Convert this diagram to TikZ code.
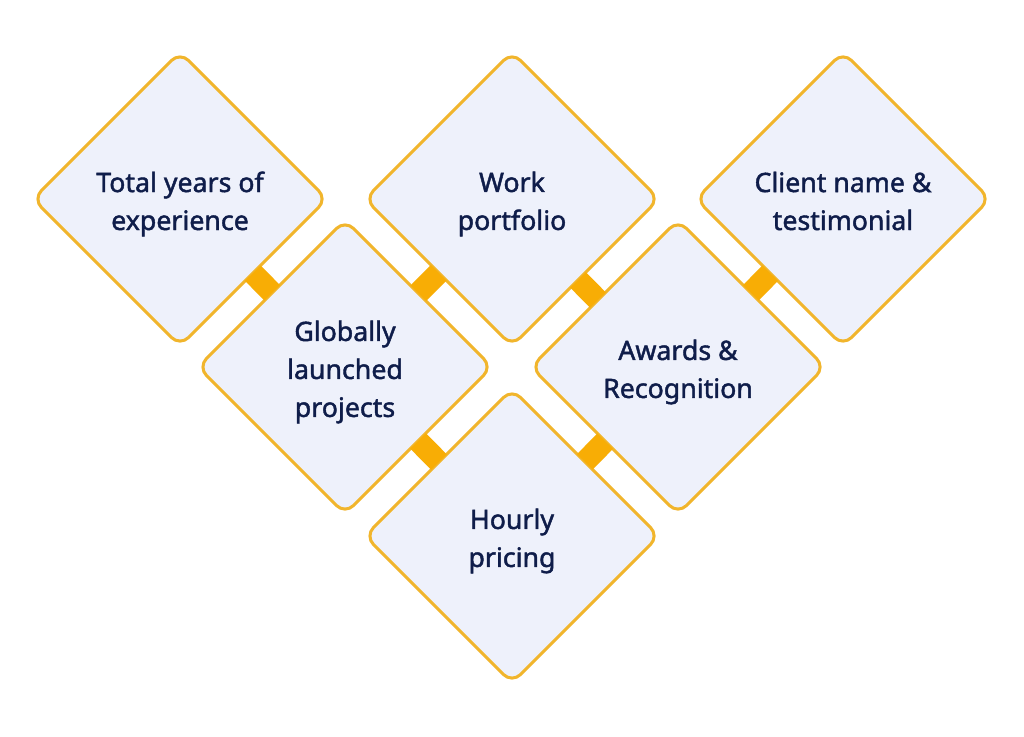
\documentclass[tikz,border=0pt]{standalone}
\usepackage{fontspec}
\setmainfont{Noto Sans}
\newfontfamily\tileface{Noto Sans}[FakeBold=1.6]
\usetikzlibrary{shapes.geometric}

\definecolor{tileFill}{HTML}{EEF1FB}
\definecolor{tileEdge}{HTML}{F1B52C}
\definecolor{tileText}{HTML}{0F1D4A}
\definecolor{linkFill}{HTML}{F8AD05}
\newcommand{\tilefont}{\tileface\fontsize{19}{27}\selectfont}

\begin{document}
\begin{tikzpicture}[x=0.025cm, y=-0.025cm,
    tile/.style={diamond, aspect=1, draw=tileEdge, fill=tileFill,
      line width=0.075cm, rounded corners=0.3cm, minimum size=7.35cm,
      inner sep=0pt, outer sep=0pt},
    tiletext/.style={align=center, text=tileText, font=\tilefont, yshift=-0.125cm},
    link/.style={draw=linkFill, line width=0.55cm}]

    \useasboundingbox[fill=white] (0,0) rectangle (1024,736);

    % Top row
    \node[tile, label={[tiletext]center:Total years of\\experience}] (years) at (180,199) {};
    \node[tile, label={[tiletext]center:Work\\portfolio}] (portfolio) at (512,199) {};
    \node[tile, label={[tiletext, yshift=0.075cm]center:Client name \&\\testimonial}] (client) at (843,199) {};

    % Middle row
    \node[tile, label={[tiletext]center:Globally\\launched\\projects}] (global) at (345,367) {};
    \node[tile, label={[tiletext]center:Awards \&\\Recognition}] (awards) at (678,367) {};

    % Bottom row
    \node[tile, label={[tiletext]center:Hourly\\pricing}] (pricing) at (512,536) {};

    % Links between neighbouring tiles
    \draw[link] (years) -- (global);
    \draw[link] (global) -- (portfolio);
    \draw[link, transform canvas={shift={(-7,7)}}] (portfolio) -- (awards);
    \draw[link] (awards) -- (client);
    \draw[link] (global) -- (pricing);
    \draw[link] (pricing) -- (awards);
\end{tikzpicture}
\end{document}
